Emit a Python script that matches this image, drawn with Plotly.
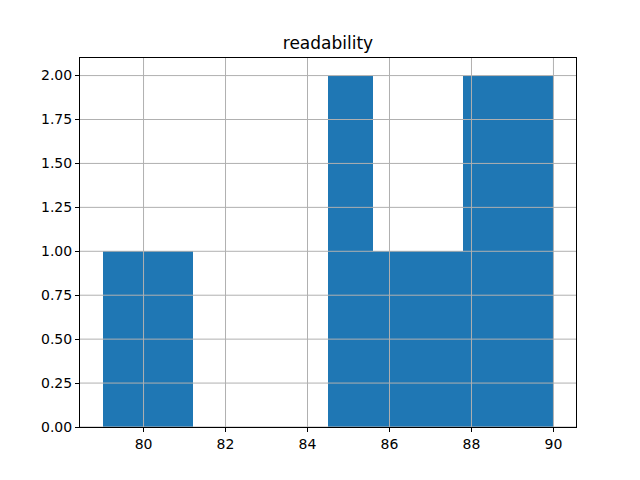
import plotly.graph_objects as go

bin_edges = [79.0, 80.1, 81.2, 82.3, 83.4, 84.5, 85.6, 86.7, 87.8, 88.9, 90.0]
counts = [1, 1, 0, 0, 0, 2, 1, 1, 2, 2]
x_ticks = [80, 82, 84, 86, 88, 90]
y_ticks = [0, 0.25, 0.5, 0.75, 1.0, 1.25, 1.5, 1.75, 2.0]
title = "readability"

centers = [(a + b) / 2 for a, b in zip(bin_edges[:-1], bin_edges[1:])]
widths = [b - a for a, b in zip(bin_edges[:-1], bin_edges[1:])]

fig = go.Figure(go.Bar(x=centers, y=counts, width=widths, marker=dict(color="#1f77b4", line=dict(width=0)), showlegend=False))

shapes = []
for t in x_ticks:
    shapes.append(dict(type="line", xref="x", yref="paper", x0=t, x1=t, y0=0, y1=1,
                       line=dict(color="#b0b0b0", width=1), layer="above"))
for t in y_ticks:
    shapes.append(dict(type="line", xref="paper", yref="y", x0=0, x1=1, y0=t, y1=t,
                       line=dict(color="#b0b0b0", width=1), layer="above"))

font = dict(family="DejaVu Sans", size=14, color="black")
fig.update_layout(
    width=640, height=480,
    margin=dict(l=80, r=64, t=58, b=53),
    paper_bgcolor="white", plot_bgcolor="white",
    font=font,
    title=dict(text=title, x=0.5, xanchor="center", xref="paper", y=1 - 43/480, yanchor="middle",
               font=dict(family="DejaVu Sans", size=17, color="black")),
    shapes=shapes,
    bargap=0,
)
fig.update_xaxes(range=[78.45, 90.55], tickvals=x_ticks, ticktext=[str(t) for t in x_ticks],
                 showgrid=False, zeroline=False, showline=True, linecolor="black", linewidth=1,
                 mirror=True, ticks="outside", ticklen=4, tickcolor="black", tickfont=font)
fig.update_yaxes(range=[0, 2.1], tickvals=y_ticks, ticktext=[f"{t:.2f}" for t in y_ticks],
                 showgrid=False, zeroline=False, showline=True, linecolor="black", linewidth=1,
                 mirror=True, ticks="outside", ticklen=4, tickcolor="black", tickfont=font)

fig.write_html("out.html", config={"displayModeBar": False},
               post_script="document.body.style.margin='0';document.body.style.overflow='hidden';")
